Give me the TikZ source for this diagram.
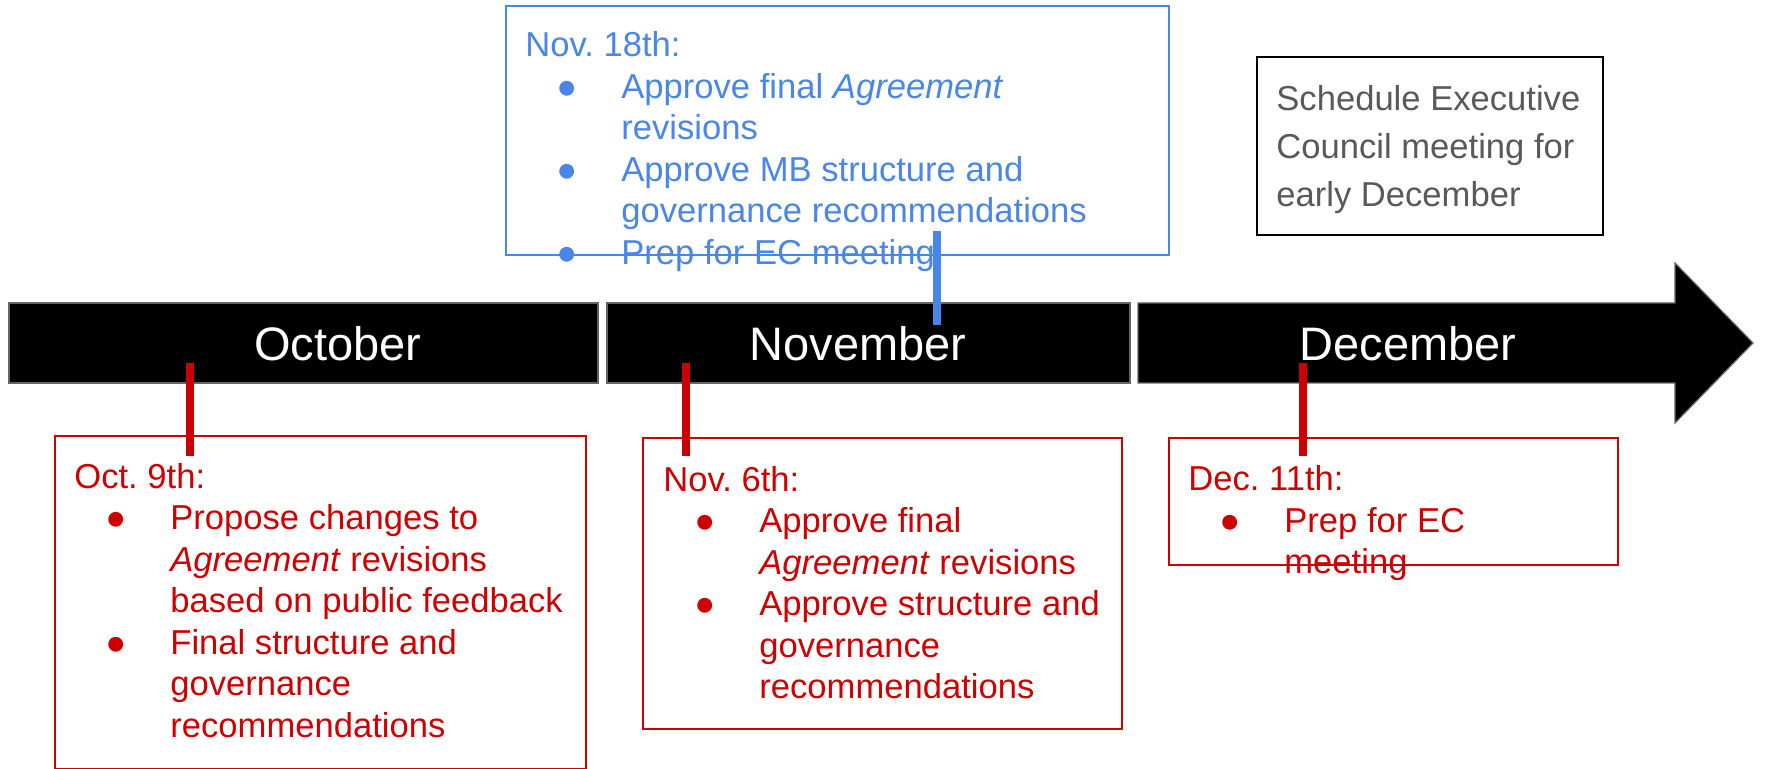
\documentclass[tikz,border=0pt]{standalone}
\usepackage{fontspec}
\setmainfont{Liberation Sans}
\frenchspacing
\definecolor{cred}{HTML}{CC0000}
\definecolor{cblue}{HTML}{4A86E8}
\definecolor{cgray}{HTML}{595959}
\newcommand{\bul}{\makebox[48pt][l]{\hspace{15.5pt}●}}
\newcommand{\ind}{\hspace*{48pt}}
\begin{document}
\begin{tikzpicture}[x=0.5pt,y=-0.5pt,
  bodytext/.style={anchor=base west, align=left, inner sep=0pt, font=\fontsize{17.3pt}{20.75pt}\selectfont},
  monthtext/.style={anchor=base, inner sep=0pt, text=white, font=\fontsize{23.5pt}{28pt}\selectfont},
  bar/.style={fill=black, draw=black!60, line width=0.6pt},
  redbox/.style={draw=cred, line width=0.8pt, anchor=north west, inner sep=0pt},
  bluebox/.style={draw=cblue, line width=1pt, anchor=north west, inner sep=0pt},
  graybox/.style={draw=black, line width=1pt, anchor=north west, inner sep=0pt},
  redtick/.style={draw=cred, line width=3.6pt},
  bluetick/.style={draw=cblue, line width=3.6pt}]
\useasboundingbox (0,0) rectangle (1766,769);
% timeline bar
\draw[bar] (9,303) rectangle (598,383);
\draw[bar] (607,303) rectangle (1130,383);
\draw[bar] (1138,303) -- (1675,303) -- (1675,263) -- (1753,343) -- (1675,423) -- (1675,383) -- (1138,383) -- cycle;
\node[monthtext] (oct) at (338,361) {October};
\node[monthtext] (nov) at (858,361) {November};
\node[monthtext] (dec) at (1408,361) {December};
% boxes
\node[bluebox, minimum width=331.5pt, minimum height=124.5pt] (b18) at (505,5) {};
\node[graybox, minimum width=173pt, minimum height=89pt] (ec) at (1256,56) {};
\node[redbox, minimum width=265.5pt, minimum height=166.5pt] (b9) at (54,435) {};
\node[redbox, minimum width=239.5pt, minimum height=145.5pt] (b6) at (642,437) {};
\node[redbox, minimum width=224.5pt, minimum height=63.5pt] (b11) at (1168,437) {};
% texts (anchored at the baseline of the last line)
\node[bodytext, text=cblue] (t18) at (525,264.5) {Nov. 18th:\\
\bul Approve final \textit{Agreement}\\
\ind revisions\\
\bul Approve MB structure and\\
\ind governance recommendations\\
\bul Prep for EC meeting};
\node[bodytext, text=cgray, font=\fontsize{17.3pt}{24pt}\selectfont] (tec) at (1276,207) {Schedule Executive\\
Council meeting for\\
early December};
\node[bodytext, text=cred] (t9) at (74,737) {Oct. 9th:\\
\bul Propose changes to\\
\ind \textit{Agreement} revisions\\
\ind based on public feedback\\
\bul Final structure and\\
\ind governance\\
\ind recommendations};
\node[bodytext, text=cred] (t6) at (663,698.5) {Nov. 6th:\\
\bul Approve final\\
\ind \textit{Agreement} revisions\\
\bul Approve structure and\\
\ind governance\\
\ind recommendations};
\node[bodytext, text=cred] (t11) at (1188,574) {Dec. 11th:\\
\bul Prep for EC\\
\ind meeting};
% ticks
\coordinate (k18a) at (937,231);
\coordinate (k18b) at (937,325);
\coordinate (k9a) at (190,363);
\coordinate (k9b) at (190,456);
\coordinate (k6a) at (686,363);
\coordinate (k6b) at (686,456);
\coordinate (k11a) at (1303,363);
\coordinate (k11b) at (1303,456);
\draw[bluetick] (k18a) -- (k18b);
\draw[redtick] (k9a) -- (k9b);
\draw[redtick] (k6a) -- (k6b);
\draw[redtick] (k11a) -- (k11b);
\end{tikzpicture}
\end{document}
